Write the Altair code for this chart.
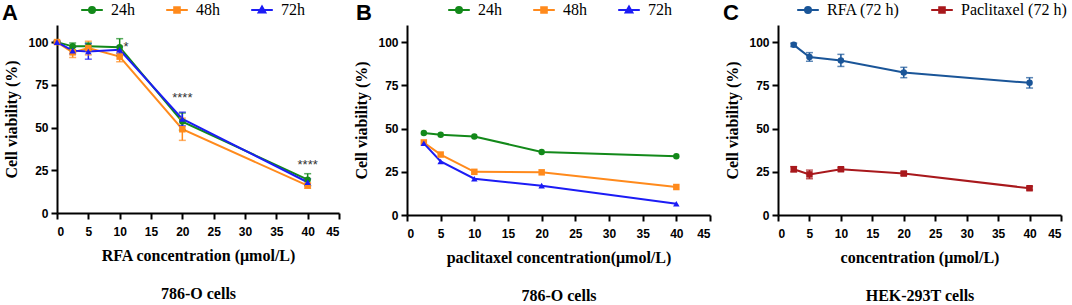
import altair as alt
import pandas as pd

# ---------------- data ----------------
conc_a = [0, 2.5, 5, 10, 20, 40]
a_names = ["24h", "48h", "72h"]
a_24 = [100, 97.5, 97.5, 97, 53.5, 19.5]
a_24_err = [0.5, 2, 2, 5, 5, 3.5]
a_48 = [100, 94, 96.5, 91.5, 49, 16]
a_48_err = [0.5, 3, 4, 3, 6.5, 1.5]
a_72 = [100, 95, 94.5, 95.5, 55, 18]
a_72_err = [0.5, 2, 4.5, 2, 4, 2]
star_x = [11, 20, 40]
star_y = [97, 67, 28]
star_txt = ["*", "****", "****"]

conc_b = [2.5, 5, 10, 20, 40]
b_24 = [47.5, 46.5, 45.5, 36.5, 34]
b_48 = [42, 35, 25, 24.7, 16.2]
b_72 = [41.5, 31, 21, 17, 6.5]

conc_c = [2.5, 5, 10, 20, 40]
c_names = ["RFA (72 h)", "Paclitaxel (72 h)"]
c_rfa = [98.5, 91.5, 89.5, 82.5, 76.5]
c_rfa_err = [1, 2.5, 3.5, 3, 3]
c_pac = [26.5, 23.5, 26.5, 24, 15.5]
c_pac_err = [1.5, 2.5, 1, 1, 1]

x_ticks = [0, 5, 10, 15, 20, 25, 30, 35, 40, 45]
y_ticks = [0, 25, 50, 75, 100]

abc_colors = ["#13891a", "#ff8a1c", "#1c1cf5"]
c_colors = ["#1a5598", "#a8181c"]

CIRCLE = "M-2.7,0H2.7M-0.75,0A0.75,0.75,0,1,1,0.75,0A0.75,0.75,0,1,1,-0.75,0Z"
SQUARE = "M-2.7,0H2.7M-0.7,-0.7H0.7V0.7H-0.7Z"
TRI = "M-2.7,0H2.7M0,-0.85L0.85,0.65H-0.85Z"


def long_df(x, names, vals, errs):
    rows = []
    for n, v, e in zip(names, vals, errs):
        for xx, vv, ee in zip(x, v, e):
            rows.append({"conc": xx, "viab": vv, "series": n, "lo": vv - ee, "hi": vv + ee})
    return pd.DataFrame(rows)


def panel(df, names, colors, shapes, legend_paths, letter, xtitle, cells,
          legend_x, width, height, letter_dx=-55, errbars=True, stars=None):
    xaxis = alt.Axis(values=x_ticks, title=[xtitle, cells])
    yaxis = alt.Axis(values=y_ticks, title="Cell viability (%)")
    xsc = alt.Scale(domain=[0, 45], nice=False)
    ysc = alt.Scale(domain=[0, 110], nice=False)
    xs = alt.X("conc:Q", scale=xsc, axis=xaxis)
    ys = alt.Y("viab:Q", scale=ysc, axis=yaxis)
    cscale = alt.Scale(domain=names, range=colors)
    leg = alt.Legend(orient="none", legendX=legend_x, legendY=-23, direction="horizontal",
                     columns=len(names), title=None, labelFont="Liberation Serif",
                     labelFontSize=16, labelColor="black", symbolSize=64,
                     labelOffset=11, columnPadding=27, symbolStrokeWidth=2,
                     padding=0, symbolOpacity=1)
    col = alt.Color("series:N", scale=cscale, legend=leg)
    base = alt.Chart(df)
    # legend-only layer (no rows drawn)
    layers = [base.transform_filter("false").mark_point(filled=True, strokeWidth=2).encode(
        x=xs, y=ys,
        color=col,
        stroke=alt.Stroke("series:N", scale=alt.Scale(domain=names, range=colors), legend=leg),
        shape=alt.Shape("series:N", scale=alt.Scale(domain=names, range=legend_paths), legend=leg),
    )]
    layers.append(base.mark_line(strokeWidth=2).encode(x=xs, y=ys, color=col))
    if errbars:
        ylo = alt.Y("lo:Q", scale=ysc, axis=yaxis)
        yhi = alt.Y("hi:Q", scale=ysc, axis=yaxis)
        layers.append(base.mark_rule(strokeWidth=1.5).encode(
            x=xs, y=ylo, y2="hi:Q", color=col))
        layers.append(base.mark_tick(orient="horizontal", size=7, thickness=1.5).encode(
            x=xs, y=ylo, color=col))
        layers.append(base.mark_tick(orient="horizontal", size=7, thickness=1.5).encode(
            x=xs, y=yhi, color=col))
    for n, s in zip(names, shapes):
        layers.append(base.transform_filter(alt.datum.series == n).mark_point(
            filled=True, shape=s, size=42, opacity=1).encode(x=xs, y=ys, color=col))
    if stars is not None:
        layers.append(alt.Chart(stars).mark_text(
            font="Liberation Sans", fontSize=13, color="#333", baseline="middle", align="center"
        ).encode(x=alt.X("sx:Q", scale=xsc, axis=xaxis),
                 y=alt.Y("sy:Q", scale=ysc, axis=yaxis), text="st:N"))
    return alt.layer(*layers).properties(
        width=width, height=height,
        title=alt.TitleParams(letter, anchor="start", frame="group", dx=letter_dx, dy=27, offset=4,
                              font="Liberation Sans", fontSize=22, fontWeight="bold",
                              color="black"))


df_a = long_df(conc_a, a_names, [a_24, a_48, a_72], [a_24_err, a_48_err, a_72_err])
df_b = long_df(conc_b, a_names, [b_24, b_48, b_72], [[0] * 5] * 3)
df_c = long_df(conc_c, c_names, [c_rfa, c_pac], [c_rfa_err, c_pac_err])
stars_df = pd.DataFrame({"sx": star_x, "sy": star_y, "st": star_txt})

pA = panel(df_a, a_names, abc_colors, ["circle", "square", "triangle-up"],
           [CIRCLE, SQUARE, TRI], "A", "RFA concentration (μmol/L)", "786-O cells",
           27, 282, 188, errbars=True, stars=stars_df)
pB = panel(df_b, a_names, abc_colors, ["circle", "square", "triangle-up"],
           [CIRCLE, SQUARE, TRI], "B", "paclitaxel concentration(μmol/L)", "786-O cells",
           44, 303, 190, letter_dx=-51, errbars=False)
pC = panel(df_c, c_names, c_colors, ["circle", "square"],
           [CIRCLE, SQUARE], "C", "concentration (μmol/L)", "HEK-293T cells",
           22, 283, 190, errbars=True)

chart = alt.hconcat(pA, pB, pC, spacing=68, bounds="flush").resolve_scale(
    color="independent", stroke="independent", shape="independent"
).configure_view(stroke=None).configure_axis(
    grid=False, domainColor="black", domainWidth=2, tickColor="black", tickWidth=2,
    tickSize=6, labelFont="Liberation Sans", labelFontWeight="bold", labelFontSize=12,
    labelColor="black", labelPadding=3, titleFont="Liberation Serif", titleFontWeight="bold",
    titleFontSize=16, titleColor="black", labelOverlap=False
).configure_axisX(titlePadding=10, titleLineHeight=38, labelPadding=7).configure_axisY(
    titlePadding=8).properties(padding={"left": 2, "top": 2, "right": 5, "bottom": 2},
                               background="white")

chart.save("out.html", embed_options={"renderer": "svg", "actions": False})
